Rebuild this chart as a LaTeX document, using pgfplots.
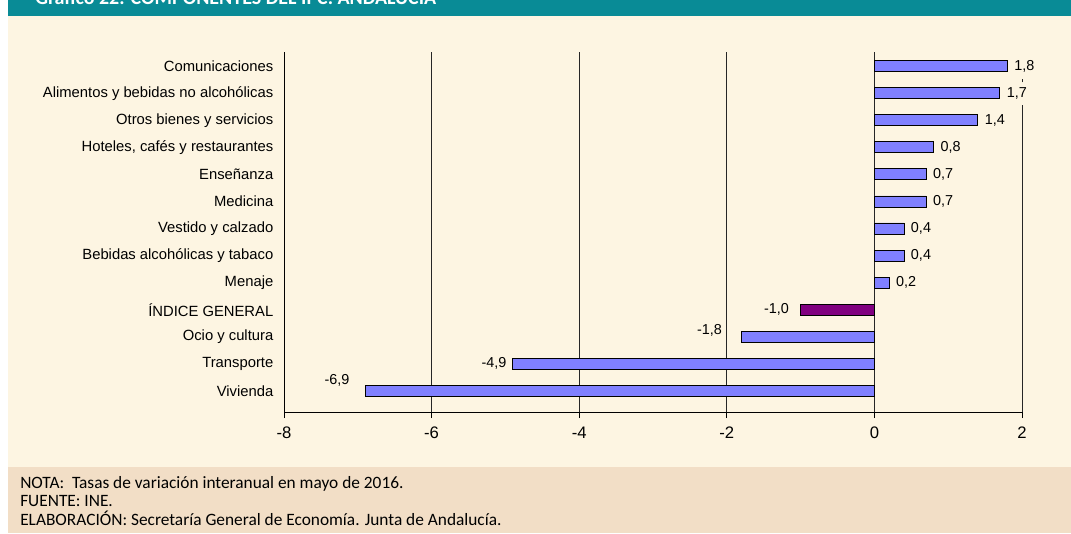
\documentclass[border=0pt]{standalone}
\usepackage{fontspec}
\setmainfont{Liberation Sans}
\newfontfamily\notefont{Carlito}
\usepackage{pgfplots}
\pgfplotsset{compat=1.18}
\definecolor{teal0}{RGB}{9,139,150}
\definecolor{cream}{RGB}{253,245,226}
\definecolor{beige}{RGB}{242,222,198}
\definecolor{barblue}{RGB}{128,128,255}
\definecolor{barpurple}{RGB}{128,0,128}
\begin{document}
\begin{tikzpicture}[x=0.75pt,y=0.75pt]
\useasboundingbox (0,0) rectangle (1071,533);
\fill[white] (0,0) rectangle (1071,533);
\fill[beige] (8,0) rectangle (1071,66);
\fill[cream] (8,66) rectangle (1071,517);
\fill[teal0] (8,517) rectangle (1071,533);
\begin{scope}
\clip (8,517) rectangle (1071,533);
\node[anchor=base west, text=white, font=\notefont\bfseries\fontsize{15}{17}\selectfont, inner sep=0] at (35,528) {Gráfico 22. COMPONENTES DEL IPC. ANDALUCÍA};
\end{scope}
\node[anchor=west, font=\notefont\fontsize{13}{15}\selectfont, inner sep=0] at (20,49) {NOTA:\ \ Tasas de variación interanual en mayo de 2016.};
\node[anchor=west, font=\notefont\fontsize{13}{15}\selectfont, inner sep=0] at (20,32) {FUENTE: INE.};
\node[anchor=west, font=\notefont\fontsize{13}{15}\selectfont, inner sep=0] at (20,15) {ELABORACIÓN: Secretaría General de Economía. Junta de Andalucía.};
\begin{axis}[
  at={(213pt,90.75pt)}, anchor=south west,
  scale only axis, width=553.5pt, height=270pt,
  xmin=-8, xmax=2, ymin=-0.78, ymax=12.52,
  axis x line*=bottom, axis y line*=left,
  axis line style={-, black, line width=0.75pt},
  xtick={-8,-6,-4,-2,0,2}, xticklabels={-8,-6,-4,-2,0,2},
  x tick label style={font=\fontsize{12.5}{14}\selectfont, yshift=-3pt},
  tick align=outside, major tick length=4.5pt,
  xtick style={black, line width=0.75pt},
  ytick={0,...,12},
  yticklabels={Vivienda, Transporte, Ocio y cultura, ÍNDICE GENERAL, Menaje, Bebidas alcohólicas y tabaco, Vestido y calzado, Medicina, Enseñanza, {Hoteles, cafés y restaurantes}, Otros bienes y servicios, Alimentos y bebidas no alcohólicas, Comunicaciones},
  ytick style={draw=none},
  y tick label style={font=\fontsize{11.1}{13}\selectfont},
  clip=false,
]
\foreach \g in {-6,-4,-2,0} {
  \edef\tmp{\noexpand\draw[black!85, line width=0.75pt] (axis cs:\g,-0.78) -- (axis cs:\g,12.52);}
  \tmp
}
\draw[black!85, line width=0.75pt] (axis cs:2,-0.78) -- (axis cs:2,10.55);
\draw[black!85, line width=0.75pt] (axis cs:2,11.4) -- (axis cs:2,11.52);
% positive bars
\addplot[xbar, bar width=8.25pt, bar shift=0pt, fill=barblue, draw=black, line width=0.6pt,
  nodes near coords, point meta=explicit symbolic,
  nodes near coords style={anchor=west, font=\fontsize{10.8}{12}\selectfont, inner sep=1.5pt, xshift=3.5pt}]
  table[x=v, y=p, meta=l] {
p v l
4 0.2 0,2
5 0.4 0,4
6 0.4 0,4
7 0.7 0,7
8 0.7 0,7
9 0.8 0,8
10 1.4 1,4
11 1.7 1,7
12 1.8 1,8
};
% negative bars
\addplot[xbar, bar width=8.25pt, bar shift=0pt, fill=barblue, draw=black, line width=0.6pt,
  nodes near coords, point meta=explicit symbolic,
  visualization depends on={\thisrow{dx} \as \dx},
  visualization depends on={\thisrow{dy} \as \dy},
  nodes near coords style={anchor=east, font=\fontsize{10.8}{12}\selectfont, inner sep=1.5pt, xshift=-3pt, xshift=\dx pt, yshift=\dy pt}]
  table[x=v, y=p, meta=l] {
p v l dx dy
0 -6.9 -6,9 -7 7.5
1 -4.9 -4,9 0 0
2 -1.8 -1,8 -10 4.5
};
% indice general
\addplot[xbar, bar width=8.25pt, bar shift=0pt, fill=barpurple, draw=black, line width=0.6pt,
  nodes near coords, point meta=explicit symbolic,
  nodes near coords style={anchor=east, font=\fontsize{10.8}{12}\selectfont, inner sep=1.5pt, xshift=-7pt}]
  table[x=v, y=p, meta=l] {
p v l
3 -1.0 -1,0
};
\end{axis}
\end{tikzpicture}
\end{document}
